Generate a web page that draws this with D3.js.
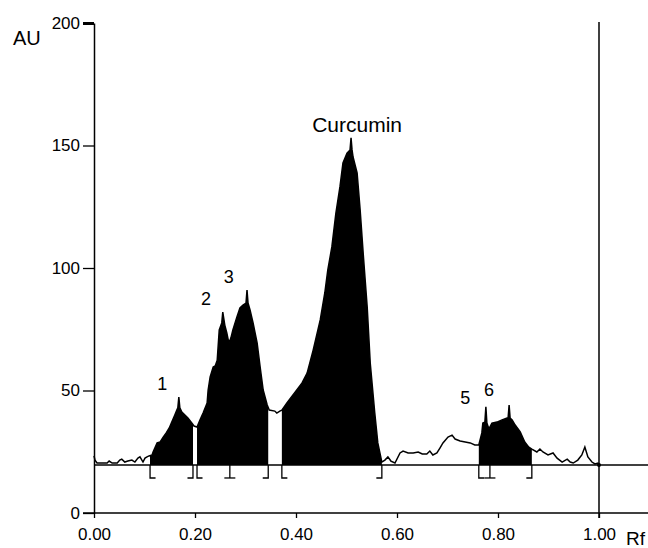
<!DOCTYPE html>
<html>
<head>
    <meta charset="utf-8">
    <title>Densitogram - Curcumin</title>
    <script src="https://d3js.org/d3.v7.min.js"></script>
    <style>
        body { margin: 0; background: #fff; }
        text { font-family: "Liberation Sans", Arial, Helvetica, sans-serif; fill: #000; }
    </style>
</head>
<body>
<script>
// scan trace: Rf position and detector response (AU)
const rf = [0.000, 0.002, 0.006, 0.018, 0.026, 0.030, 0.036, 0.046, 0.051, 0.055,
    0.061, 0.067, 0.075, 0.081, 0.087, 0.091, 0.097, 0.101, 0.105, 0.109,
    0.115, 0.117, 0.125, 0.131, 0.137, 0.143, 0.149, 0.154, 0.160, 0.164,
    0.166, 0.168, 0.170, 0.174, 0.180, 0.186, 0.194, 0.198, 0.204, 0.210,
    0.216, 0.224, 0.226, 0.230, 0.236, 0.240, 0.244, 0.248, 0.253, 0.255,
    0.259, 0.263, 0.267, 0.271, 0.275, 0.283, 0.289, 0.295, 0.301, 0.303,
    0.305, 0.309, 0.315, 0.323, 0.329, 0.335, 0.343, 0.347, 0.358, 0.362,
    0.368, 0.372, 0.382, 0.394, 0.412, 0.422, 0.434, 0.448, 0.457, 0.463,
    0.471, 0.479, 0.487, 0.493, 0.501, 0.507, 0.509, 0.511, 0.513, 0.521,
    0.527, 0.533, 0.541, 0.547, 0.556, 0.562, 0.570, 0.576, 0.582, 0.588,
    0.596, 0.606, 0.612, 0.622, 0.632, 0.642, 0.650, 0.659, 0.665, 0.671,
    0.679, 0.685, 0.691, 0.701, 0.709, 0.715, 0.725, 0.735, 0.745, 0.754,
    0.762, 0.768, 0.770, 0.774, 0.776, 0.778, 0.782, 0.788, 0.798, 0.808,
    0.818, 0.820, 0.822, 0.824, 0.828, 0.834, 0.844, 0.853, 0.861, 0.867,
    0.877, 0.883, 0.889, 0.899, 0.909, 0.917, 0.927, 0.937, 0.943, 0.949,
    0.958, 0.966, 0.972, 0.978, 0.986, 0.992, 0.998, 1.002];
const au = [23.3, 21.6, 20.4, 20.4, 20.4, 21.2, 20.4, 20.4, 21.6, 22.0,
    20.8, 21.2, 21.6, 20.8, 22.4, 22.9, 20.8, 22.4, 22.9, 23.3,
    23.7, 24.9, 28.6, 29.0, 31.0, 32.7, 34.7, 37.1, 40.0, 42.0,
    42.9, 47.3, 42.9, 41.2, 40.0, 38.8, 36.7, 35.5, 35.1, 38.0,
    40.8, 44.9, 50.2, 55.5, 59.6, 60.0, 62.4, 74.7, 77.6, 82.0,
    76.7, 73.5, 69.4, 71.4, 74.7, 80.0, 83.7, 84.9, 85.7, 91.0,
    85.7, 82.9, 77.6, 69.4, 59.6, 50.2, 44.1, 42.0, 41.6, 40.8,
    41.6, 42.0, 44.9, 48.2, 53.1, 57.1, 66.5, 78.8, 89.8, 99.2,
    108.6, 122.4, 133.1, 142.9, 146.9, 148.2, 153.1, 148.2, 145.3, 138.8,
    123.7, 106.1, 84.1, 61.2, 40.8, 28.6, 20.8, 21.6, 22.9, 21.2,
    20.4, 24.5, 25.3, 24.5, 24.5, 24.9, 24.1, 24.1, 25.3, 23.7,
    24.5, 26.5, 28.6, 31.0, 31.8, 30.2, 29.4, 29.0, 28.6, 27.8,
    27.8, 32.7, 36.7, 37.1, 43.3, 36.7, 34.3, 36.7, 37.1, 38.0,
    38.8, 38.8, 44.1, 38.8, 38.0, 35.9, 33.1, 29.0, 26.9, 26.1,
    24.9, 26.1, 24.9, 23.7, 24.5, 22.4, 20.8, 22.0, 20.8, 20.4,
    21.6, 23.7, 26.9, 22.9, 20.8, 20.0, 20.4, 19.6];

const baselineAU = 19.6;

// integration windows (Rf start, Rf end) and the marker drawn at each boundary
const segStart = [0.111, 0.204, 0.269, 0.372, 0.762, 0.784];
const segEnd   = [0.196, 0.269, 0.345, 0.570, 0.784, 0.867];
const marks = [
    {rf: 0.111, type: "open"}, {rf: 0.196, type: "close"},
    {rf: 0.204, type: "open"}, {rf: 0.269, type: "split"},
    {rf: 0.345, type: "close"}, {rf: 0.372, type: "open"},
    {rf: 0.570, type: "close"}, {rf: 0.762, type: "open"},
    {rf: 0.784, type: "split"}, {rf: 0.867, type: "close"}
];

const peakNames = ["1", "2", "3", "Curcumin", "5", "6"];
const peakRf    = [0.135, 0.222, 0.267, 0.521, 0.735, 0.782];
const peakAU    = [50.2, 84.9, 93.9, 155.5, 44.5, 47.8];

const xTicks = [0, 0.2, 0.4, 0.6, 0.8, 1.0];
const yTicks = [0, 50, 100, 150, 200];

const W = 648, H = 548;
const x = d3.scaleLinear().domain([0, 1]).range([94, 599]);
const y = d3.scaleLinear().domain([0, 200]).range([513, 23]);

const svg = d3.select("body").append("svg")
    .attr("width", W)
    .attr("height", H);

const trace = rf.map(function(d, i) { return [d, au[i]]; });

// windows that touch are filled as one block (no seam between them)
let fills = [];
segStart.forEach(function(s, i) {
    const last = fills[fills.length - 1];
    if (last && last[1] == s) last[1] = segEnd[i];
    else fills.push([s, segEnd[i]]);
});

const defs = svg.append("defs");
fills.forEach(function(f, i) {
    defs.append("clipPath").attr("id", "seg" + i)
        .append("rect")
        .attr("x", x(f[0]))
        .attr("y", 0)
        .attr("width", x(f[1]) - x(f[0]))
        .attr("height", H);
});

const area = d3.area()
    .x(function(d) { return x(d[0]); })
    .y0(y(baselineAU))
    .y1(function(d) { return y(d[1]); });

fills.forEach(function(f, i) {
    svg.append("path")
        .attr("d", area(trace))
        .attr("clip-path", "url(#seg" + i + ")")
        .attr("fill", "#000");
});

// baseline
svg.append("line")
    .attr("x1", x(0)).attr("x2", W)
    .attr("y1", y(baselineAU)).attr("y2", y(baselineAU))
    .attr("stroke", "#000").attr("stroke-width", 1.5);

// trace line
const line = d3.line()
    .x(function(d) { return x(d[0]); })
    .y(function(d) { return y(d[1]); });

svg.append("path")
    .attr("d", line(trace))
    .attr("fill", "none")
    .attr("stroke", "#000")
    .attr("stroke-width", 1.5)
    .attr("stroke-linejoin", "miter");

// integration brackets under the baseline
const by = y(baselineAU), drop = 13, foot = 5.5;
marks.forEach(function(m) {
    const px = x(m.rf);
    let pts;
    if (m.type == "open") pts = [[px, by], [px, by + drop], [px + foot, by + drop]];
    else if (m.type == "close") pts = [[px, by], [px, by + drop], [px - foot, by + drop]];
    else pts = null;
    if (pts) {
        svg.append("path")
            .attr("d", d3.line()(pts))
            .attr("fill", "none").attr("stroke", "#000").attr("stroke-width", 1.3);
    } else {
        svg.append("line").attr("x1", px).attr("x2", px)
            .attr("y1", by).attr("y2", by + drop)
            .attr("stroke", "#000").attr("stroke-width", 1.3);
        svg.append("line").attr("x1", px - foot).attr("x2", px + foot)
            .attr("y1", by + drop).attr("y2", by + drop)
            .attr("stroke", "#000").attr("stroke-width", 1.3);
    }
});

// small end dot at Rf 1.00
svg.append("circle")
    .attr("cx", x(1)).attr("cy", y(baselineAU))
    .attr("r", 2).attr("fill", "#000");

// vertical marker at Rf 1.00
svg.append("line")
    .attr("x1", x(1)).attr("x2", x(1))
    .attr("y1", y(200) - 1).attr("y2", y(0) + 5)
    .attr("stroke", "#000").attr("stroke-width", 1.5);

// axes
const yAxis = d3.axisLeft(y)
    .tickValues(yTicks)
    .tickSize(11)
    .tickSizeOuter(0)
    .tickPadding(3);

const yg = svg.append("g")
    .attr("transform", "translate(" + x(0) + ",0)")
    .call(yAxis);
yg.select(".domain").attr("stroke-width", 1.5);
yg.selectAll(".tick line").attr("stroke-width", 1.3);
yg.selectAll(".tick text").attr("font-size", 17).attr("font-family", null);
yg.selectAll(".tick").filter(function(d) { return d == 200; })
    .select("line").attr("stroke-width", 3);

const xAxis = d3.axisBottom(x)
    .tickValues(xTicks)
    .tickSize(5)
    .tickSizeOuter(0)
    .tickPadding(10)
    .tickFormat(d3.format(".2f"));

const xg = svg.append("g")
    .attr("transform", "translate(0," + y(0) + ")")
    .call(xAxis);
xg.select(".domain").remove();
xg.selectAll(".tick line").attr("stroke-width", 1.3);
xg.selectAll(".tick text").attr("font-size", 17).attr("font-family", null);

svg.append("line")
    .attr("x1", x(0) - 11).attr("x2", W)
    .attr("y1", y(0)).attr("y2", y(0))
    .attr("stroke", "#000").attr("stroke-width", 1.5);

// axis titles
svg.append("text")
    .attr("x", 13).attr("y", 45)
    .attr("font-size", 20)
    .text("AU");

svg.append("text")
    .attr("x", 626).attr("y", 545)
    .attr("font-size", 19)
    .text("Rf");

// peak labels
peakNames.forEach(function(n, i) {
    svg.append("text")
        .attr("x", x(peakRf[i]))
        .attr("y", y(peakAU[i]))
        .attr("text-anchor", "middle")
        .attr("font-size", n == "Curcumin" ? 21 : 18)
        .text(n);
});
</script>
</body>
</html>
